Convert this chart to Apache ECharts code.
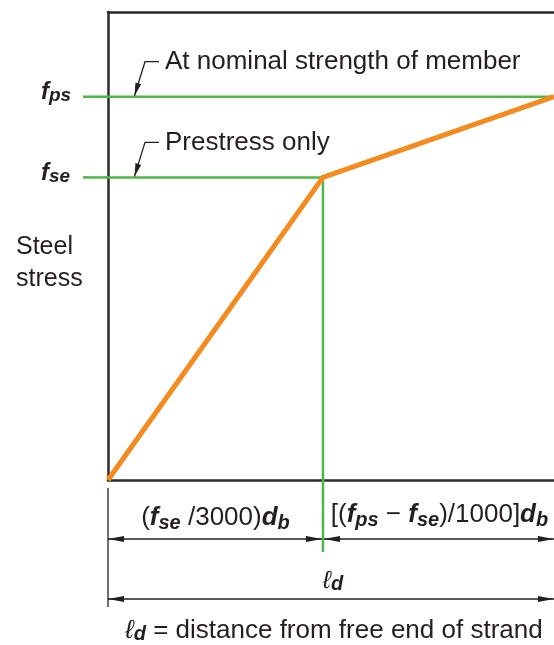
<!DOCTYPE html>
<html>
<head>
<meta charset="utf-8">
<script src="https://cdn.jsdelivr.net/npm/echarts@6/dist/echarts.min.js"></script>
<style>
html,body{margin:0;padding:0;background:#ffffff;}
#c{width:554px;height:645px;}
</style>
</head>
<body>
<div id="c"></div>
<script>
// ---- data (relative units) ----
const distance = [0, 48.2, 100];          // distance from free end of strand
const steelStress = [0, 150, 190];        // steel stress: 0, f_se, f_ps
const levelSubs = ['', 'se', 'ps'];       // subscripts of the stress levels
const levelNotes = ['', 'Prestress only', 'At nominal strength of member'];
const yAxisTitle = ['Steel', 'stress'];
const xMax = 100;
const yMax = 232;

// ---- styling ----
const FONT = '"Liberation Sans", Arial, Helvetica, sans-serif';
const INK = '#231f20';
const BOX = '#2b2b2b';
const GREEN = '#4db848';
const ORANGE = '#f58a1f';

const chart = echarts.init(document.getElementById('c'), null, {renderer: 'canvas'});
const curve = distance.map((x, i) => [x, steelStress[i]]);

const hiddenAxisBits = {
  axisTick: {show: false}, axisLabel: {show: false}, splitLine: {show: false}
};
const boxLine = {show: true, onZero: false, lineStyle: {color: BOX, width: 2.5}};

chart.setOption({
  animation: false,
  backgroundColor: '#ffffff',
  grid: {left: 108, top: 12, right: 0, bottom: 165, containLabel: false},
  xAxis: [
    Object.assign({type: 'value', min: 0, max: xMax, position: 'bottom', axisLine: boxLine}, hiddenAxisBits),
    Object.assign({type: 'value', min: 0, max: xMax, position: 'top', axisLine: boxLine}, hiddenAxisBits)
  ],
  yAxis: Object.assign({type: 'value', min: 0, max: yMax, axisLine: boxLine}, hiddenAxisBits),
  series: [
    {
      type: 'line', symbol: 'none', silent: true, z: 3,
      lineStyle: {color: GREEN, width: 2.5},
      data: [[0, steelStress[2]], [xMax, steelStress[2]]]
    },
    {
      type: 'line', symbol: 'none', silent: true, z: 3,
      lineStyle: {color: GREEN, width: 2.5},
      data: [[0, steelStress[1]], [distance[1], steelStress[1]], [distance[1], 0]]
    },
    {
      type: 'line', symbol: 'none', silent: true, z: 5,
      lineStyle: {color: ORANGE, width: 5, join: 'miter'},
      data: curve
    }
  ]
});

// ---- annotations positioned through the chart's own scales ----
const px = p => chart.convertToPixel({gridIndex: 0}, p);
const origin = px([0, 0]);
const corner = px([distance[1], steelStress[1]]);
const endPt = px([distance[2], steelStress[2]]);
const gLeft = origin[0], gBottom = origin[1], gRight = endPt[0];

const g = [];
function line(x1, y1, x2, y2, color, w) {
  g.push({type: 'line', silent: true, z: 10, shape: {x1, y1, x2, y2}, style: {stroke: color, lineWidth: w}});
}
function arrowHead(tx, ty, fx, fy, len, half) {
  const dx = tx - fx, dy = ty - fy;
  const d = Math.hypot(dx, dy);
  const ux = dx / d, uy = dy / d;
  const bx = tx - ux * len, by = ty - uy * len;
  g.push({type: 'polygon', silent: true, z: 11,
    shape: {points: [[tx, ty], [bx - uy * half, by + ux * half], [bx + uy * half, by - ux * half]]},
    style: {fill: INK}});
}
function dimLine(x1, x2, y) {
  line(x1, y, x2, y, INK, 1.3);
  arrowHead(x1, y, x2, y, 16, 3);
  arrowHead(x2, y, x1, y, 16, 3);
}
function text(x, y, str, opts) {
  g.push({type: 'text', silent: true, z: 12, x, y,
    style: Object.assign({text: str, fill: INK, font: '26px ' + FONT, align: 'left', verticalAlign: 'middle'}, opts || {})});
}

const richMain = (size, lh) => ({fontSize: size, fontFamily: FONT, fill: INK, lineHeight: lh, verticalAlign: 'middle'});
const richBI = (size, lh) => ({fontSize: size, fontFamily: FONT, fill: INK, fontWeight: 'bold', fontStyle: 'italic', lineHeight: lh, verticalAlign: 'middle'});
const richSub = (size, lh) => ({fontSize: size, fontFamily: FONT, fill: INK, fontWeight: 'bold', fontStyle: 'italic', lineHeight: lh, verticalAlign: 'bottom'});

// stress levels: labels, green extensions, leaders
for (let i = 1; i < steelStress.length; i++) {
  const y = px([0, steelStress[i]])[1];
  line(83, y, gLeft, y, GREEN, 2.5);
  text(41, y - 4, '{f|f}{s|' + levelSubs[i] + '}', {
    rich: {f: richBI(24, 26), s: richSub(19, 15)}
  });
  // leader with arrow
  const ty = y - 35;
  g.push({type: 'polyline', silent: true, z: 10,
    shape: {points: [[159, ty], [145, ty], [134.5, y - 1]]},
    style: {stroke: INK, lineWidth: 1.3, fill: null}});
  arrowHead(134.5, y - 1, 145, ty, 13, 3);
  text(165, ty, levelNotes[i], {font: '26px ' + FONT});
}

// vertical green extension of the development point
line(corner[0], gBottom, corner[0], 552, GREEN, 2.5);

// y-axis title
text(16, 247, yAxisTitle[0], {font: '25px ' + FONT});
text(16, 279, yAxisTitle[1], {font: '25px ' + FONT});

// dimension lines
line(gLeft, 488, gLeft, 607, INK, 1.3);
dimLine(gLeft, corner[0] - 1, 539);
dimLine(corner[0] + 1, gRight, 539);
dimLine(gLeft, gRight, 599);

const dimRich = {r: richMain(26, 30), b: richBI(26, 30), s: richSub(20, 18)};
text((gLeft + corner[0]) / 2, 518, '{r|(}{b|f}{s|se}{r| /3000)}{b|d}{s|b}', {align: 'center', rich: dimRich});
text((corner[0] + gRight) / 2 + 1, 515, '{r|[(}{b|f}{s|ps}{r| \u2212 }{b|f}{s|se}{r|)/1000]}{b|d}{s|b}', {align: 'center', rich: dimRich});
text((gLeft + gRight) / 2 + 2, 581, '{l|\u2113}{s|d}', {align: 'center', rich: {
  l: Object.assign(richMain(25, 26), {fontStyle: 'italic'}), s: richSub(20, 16)
}});
text((gLeft + gRight) / 2 + 3, 631, '{l|\u2113}{s|d}{r| = distance from free end of strand}', {align: 'center', rich: {
  l: Object.assign(richMain(26, 26), {fontStyle: 'italic'}), s: richSub(20, 16), r: richMain(26, 26)
}});

chart.setOption({graphic: {elements: g}});
</script>
</body>
</html>
